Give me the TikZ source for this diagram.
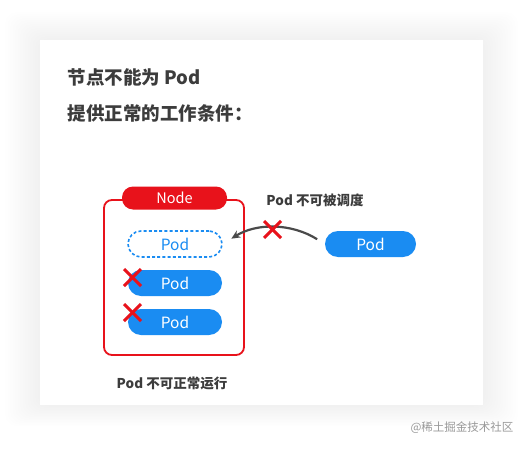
\documentclass[tikz,border=0pt]{standalone}
\usepackage{fontspec}
\setmainfont{Noto Sans CJK SC}
\usepackage{tikz}
\usetikzlibrary{arrows.meta}

\definecolor{nodered}{HTML}{E8121B}
\definecolor{podblue}{HTML}{1A8CF2}
\definecolor{textgray}{HTML}{3C3C3C}
\definecolor{markgray}{HTML}{4A4A4A}

\begin{document}
\begin{tikzpicture}[x=1pt,y=1pt,
    pod/.style={rounded corners=13pt, minimum width=94pt, minimum height=26pt,
        inner sep=0pt, font=\fontsize{15.5}{15.5}\selectfont},
    podfull/.style={pod, fill=podblue, text=white},
    podempty/.style={pod, draw=podblue, dash pattern=on 3pt off 2.2pt, line width=1.6pt, text=podblue},
    cross/.style={nodered, line width=3pt},
    caption/.style={text=textgray, font=\fontsize{13.5}{13.5}\selectfont\bfseries}]
    \useasboundingbox (0,0) rectangle (524,448);
    \fill[white] (0,0) rectangle (524,448);
    % soft shadow round the card
    \foreach \i in {1,...,14}
        \fill[black, opacity=0.0035, rounded corners=12pt] (40-2.5*\i,43-1.5*\i) rectangle (483+2.5*\i,408+2*\i);
    \fill[white] (40,43) rectangle (483,408);

    % title
    \node[anchor=west, text=textgray, font=\fontsize{18.5}{18.5}\selectfont\bfseries] (title1) at (64,371) {节点不能为 Pod};
    \node[anchor=west, text=textgray, font=\fontsize{18.5}{18.5}\selectfont\bfseries] (title2) at (64,335) {提供正常的工作条件：};

    % the node
    \draw[nodered, line width=1.8pt, rounded corners=8pt] (104,248) rectangle (244,93);
    \node[fill=nodered, text=white, rounded corners=11pt, minimum width=105pt, minimum height=23pt,
        inner sep=0pt, font=\fontsize{14.5}{14.5}\selectfont] (node) at (174.5,250) {Node};

    \node[podempty] (dpod) at (175,204) {Pod};
    \node[podfull] (pod2) at (175,165) {Pod};
    \node[podfull] (pod3) at (175,126) {Pod};
    \node[podfull, minimum width=91pt] (rpod) at (370.5,204) {Pod};

    % pods that fail
    \draw[cross] (124,179) -- (141,162);
    \draw[cross] (124,162) -- (141,179);
    \draw[cross] (124,144) -- (141,127);
    \draw[cross] (124,127) -- (141,144);

    % scheduling arrow
    \draw[markgray, line width=2.2pt, -{Stealth[length=9pt,width=8pt]}, shorten <=9pt, shorten >=10pt]
        (rpod.west) to[bend right=32] (dpod.east);
    \draw[cross] (264,227) -- (281,210);
    \draw[cross] (264,210) -- (281,227);

    \node[caption] (nosched) at (315,248) {Pod 不可被调度};
    \node[caption] (norun) at (172,65) {Pod 不可正常运行};

    \node[text=black!40, font=\fontsize{11.5}{11.5}\selectfont] (mark) at (462,20) {@稀土掘金技术社区};
\end{tikzpicture}
\end{document}
